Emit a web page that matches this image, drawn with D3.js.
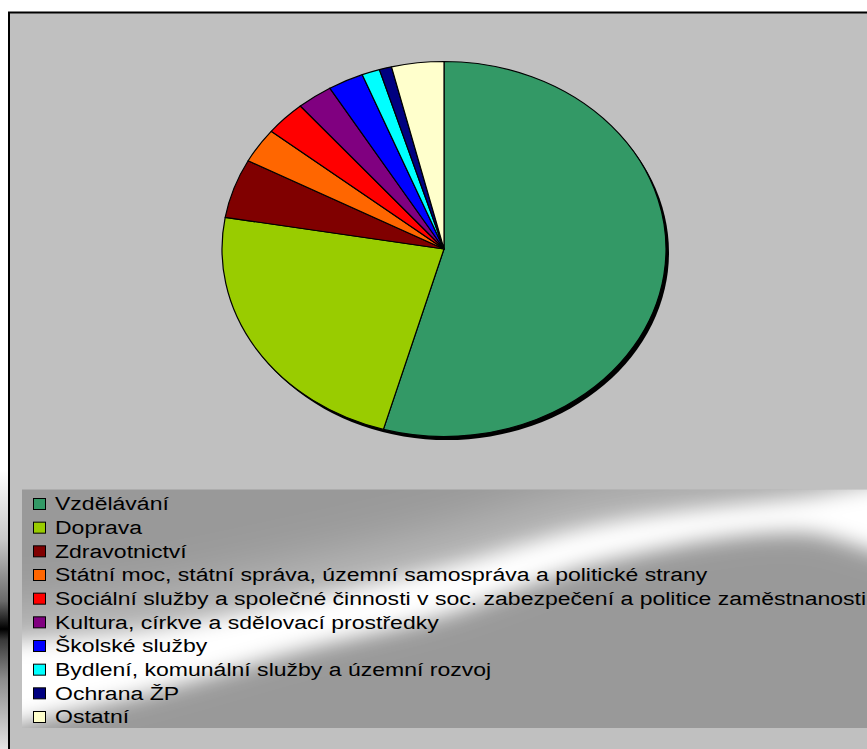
<!DOCTYPE html>
<html>
<head>
<meta charset="utf-8">
<script src="https://cdn.jsdelivr.net/npm/d3@7"></script>
<style>
  html, body { margin: 0; padding: 0; background: #ffffff; }
  svg { display: block; }
</style>
</head>
<body>
<svg id="chart" width="867" height="749"></svg>
<script>
// Výdaje podle oblastí (podíl v %)
const categories = [
  "Vzdělávání",
  "Doprava",
  "Zdravotnictví",
  "Státní moc, státní správa, územní samospráva a politické strany",
  "Sociální služby a společné činnosti v soc. zabezpečení a politice zaměstnanosti",
  "Kultura, církve a sdělovací prostředky",
  "Školské služby",
  "Bydlení, komunální služby a územní rozvoj",
  "Ochrana ŽP",
  "Ostatní"
];
const values = [54.4, 23.3, 5.1, 3.0, 3.0, 2.6, 2.6, 1.3, 0.9, 3.8];
const colors = ["#339966", "#99CC00", "#800000", "#FF6600", "#FF0000",
                "#800080", "#0000FF", "#00FFFF", "#000080", "#FFFFCC"];

const svg = d3.select("#chart");
const W = 867, H = 749;
const defs = svg.append("defs");

// Dark strip at the far left edge
const strip = defs.append("linearGradient")
  .attr("id", "stripGrad").attr("gradientUnits", "userSpaceOnUse")
  .attr("x1", 0).attr("y1", 470).attr("x2", 0).attr("y2", 749);
[[0, "#ffffff"], [0.25, "#c8c8c8"], [0.47, "#6a6a6a"], [0.57, "#000000"],
 [0.61, "#3a3a3a"], [0.75, "#8c8c8c"], [1, "#e4e4e4"]]
  .forEach(([o, c]) => strip.append("stop").attr("offset", o).attr("stop-color", c));
svg.append("rect").attr("x", 0).attr("y", 470).attr("width", 8).attr("height", H - 470)
  .attr("fill", "url(#stripGrad)");

// Chart area
svg.append("rect")
  .attr("x", 9).attr("y", 12.5).attr("width", W + 10).attr("height", H)
  .attr("fill", "#C0C0C0").attr("stroke", "#000").attr("stroke-width", 2);

// Pie (elliptical)
const cx = 444, cy = 249, rx = 222, ry = 187.5;
const pie = d3.pie().sort(null).value(d => d).startAngle(0).endAngle(2 * Math.PI);
const arc = d3.arc().innerRadius(0).outerRadius(ry);
const arcs = pie(values);

const pieG = svg.append("g")
  .attr("transform", `translate(${cx},${cy}) scale(${rx / ry},1)`);

// drop shadow
pieG.append("ellipse")
  .attr("cx", 3 * ry / rx).attr("cy", 3.5).attr("rx", ry).attr("ry", ry)
  .attr("fill", "#000");

pieG.selectAll("path.slice")
  .data(arcs)
  .join("path")
  .attr("class", "slice")
  .attr("d", arc)
  .attr("fill", (d, i) => colors[i])
  .attr("stroke", "#000")
  .attr("stroke-width", 1.2)
  .attr("stroke-linejoin", "round")
  .attr("vector-effect", "non-scaling-stroke");

// Legend box: grey fill with a soft diagonal highlight
const legendX = 22, legendY = 489.5, legendH = 238.5, legendW = W - legendX + 5;

defs.append("clipPath").attr("id", "legendClip")
  .append("rect").attr("x", legendX).attr("y", legendY)
  .attr("width", legendW).attr("height", legendH);
defs.append("filter").attr("id", "soft").attr("x", "-20%").attr("y", "-50%")
  .attr("width", "140%").attr("height", "200%")
  .append("feGaussianBlur").attr("stdDeviation", 10);
defs.append("filter").attr("id", "softWide").attr("x", "-20%").attr("y", "-80%")
  .attr("width", "140%").attr("height", "260%")
  .append("feGaussianBlur").attr("stdDeviation", 26);

svg.append("rect")
  .attr("x", legendX).attr("y", legendY)
  .attr("width", legendW).attr("height", legendH)
  .attr("fill", "#999999");

const shine = svg.append("g").attr("clip-path", "url(#legendClip)");
const upper = [[-40, 650], [0, 644], [150, 630], [300, 600], [440, 568],
               [600, 524], [800, 498], [920, 490]];
const lower = [[920, 556], [800, 532], [600, 562], [440, 616], [300, 650],
               [150, 692], [0, 728], [-40, 740]];
const band = d3.line().curve(d3.curveCatmullRomClosed);

shine.append("path")
  .attr("d", band(upper.map(([x, y]) => [x, y - 34]).concat(lower.map(([x, y]) => [x, y - 20]))))
  .attr("fill", "#ffffff").attr("fill-opacity", 0.35)
  .attr("filter", "url(#softWide)");
shine.append("path")
  .attr("d", band(upper.concat(lower)))
  .attr("fill", "#ffffff")
  .attr("filter", "url(#soft)");

const rowY = d3.scalePoint().domain(d3.range(categories.length))
  .range([504, 717]);

const items = svg.append("g").selectAll("g")
  .data(categories)
  .join("g")
  .attr("transform", (d, i) => `translate(0,${rowY(i)})`);

items.append("rect")
  .attr("x", 33.5).attr("y", -5.5).attr("width", 12).attr("height", 11)
  .attr("fill", (d, i) => colors[i])
  .attr("stroke", "#000").attr("stroke-width", 1);

const labels = items.append("text")
  .attr("x", 0).attr("y", 6.3)
  .attr("font-family", "'Liberation Sans', Arial, sans-serif")
  .attr("font-size", 17.6)
  .attr("fill", "#000")
  .text(d => d);

// legend text is drawn horizontally widened; longest label spans to x≈866
const longest = d3.max(labels.nodes(), n => n.getComputedTextLength());
const sx = (866 - 55) / longest;
labels.attr("transform", `translate(55,0) scale(${sx},1)`);
</script>
</body>
</html>
